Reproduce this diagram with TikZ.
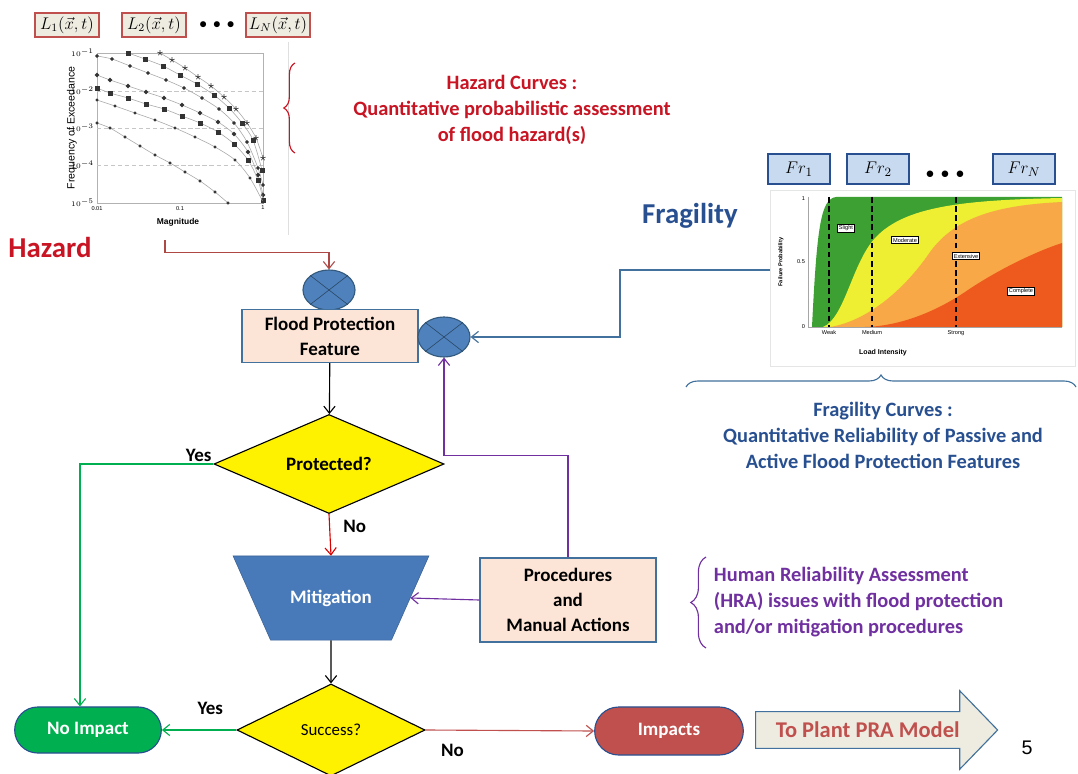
\documentclass[tikz,border=0pt]{standalone}
\usepackage{amsmath,amssymb}
\usepackage{fontspec}
\setmainfont{Carlito}
\newfontfamily\numfont{Liberation Sans}
\usetikzlibrary{shapes.geometric,shapes.misc,shapes.arrows,decorations.pathreplacing,positioning,arrows.meta,plotmarks}

\definecolor{hazred}{RGB}{200,20,35}
\definecolor{fragblue}{RGB}{40,80,145}
\definecolor{hrapurple}{RGB}{112,48,160}
\definecolor{peach}{RGB}{252,228,214}
\definecolor{edgeblue}{RGB}{65,113,156}
\definecolor{mixblue}{RGB}{79,129,189}
\definecolor{mitblue}{RGB}{72,122,186}
\definecolor{okgreen}{RGB}{0,176,80}
\definecolor{badred}{RGB}{192,80,77}
\definecolor{paper}{RGB}{238,236,225}
\definecolor{frfill}{RGB}{200,218,240}
\definecolor{fgreen}{RGB}{60,160,50}
\definecolor{fyellow}{RGB}{238,238,50}
\definecolor{forange}{RGB}{248,168,70}
\definecolor{fred}{RGB}{238,90,30}

\newcommand{\bigfont}{\fontsize{20.5}{24}\selectfont\bfseries}
\newcommand{\notefont}{\fontsize{14.5}{18.5}\selectfont\bfseries}
\newcommand{\flowfont}{\fontsize{13.5}{17.7}\selectfont\bfseries}
\newcommand{\axfont}{\numfont\fontsize{4}{5}\selectfont}

\begin{document}
\begin{tikzpicture}[x=0.025cm,y=-0.025cm,>={Straight Barb[length=5pt,width=8pt]},
    lbox/.style={draw=badred,thick,fill=paper,minimum width=1.6cm,minimum height=0.6cm,inner sep=1pt,font=\fontsize{12}{14}\selectfont},
    frbox/.style={draw=fragblue,thick,fill=frfill,minimum width=1.55cm,minimum height=0.75cm,font=\fontsize{13}{15}\selectfont},
    mixer/.style={ellipse,draw=edgeblue!80!black,thick,fill=mixblue,minimum width=1.3cm,minimum height=1cm},
    box/.style={draw=edgeblue,thick,fill=peach,align=center,font=\flowfont},
    decision/.style={diamond,draw,thick,fill=yellow,inner sep=0pt},
    terminal/.style={rounded rectangle,draw=fragblue,thick,text=white,font=\flowfont,minimum width=3.9cm,minimum height=1.15cm},
    label/.style={font=\flowfont,text=black},
    tag/.style={draw,fill=white,inner sep=1pt,font=\axfont},
    flow/.style={->,thick}]
    \fill[white] (0,0) rectangle (1078,774);
    \useasboundingbox (0,0) rectangle (1078,774);

    \node[lbox] (l1) at (67,25) {$L_1(\vec{x},t)$};
    \node[lbox] (l2) at (154,25) {$L_2(\vec{x},t)$};
    \node[font=\fontsize{11}{11}\selectfont] (ldots) at (217,25) {$\bullet\,\bullet\,\bullet$};
    \node[lbox] (ln) at (278,25) {$L_N(\vec{x},t)$};

    \draw[gray!25] (288,42) -- (288,235);
    \draw[gray!60,fill=white] (97,53) rectangle (263,203);
    \foreach \y in {91,128,165} \draw[gray!45,densely dashed] (97,\y) -- (263,\y);
    \draw[gray!70,mark=star,mark size=2pt,mark options={black!80}] plot[smooth] coordinates {(160,53) (172,60) (185,68) (198,77) (211,86) (224,97) (236,109) (247,123) (256,138) (263,158)};
    \draw[gray!70,mark=square*,mark size=1.3pt,mark options={black!80}] plot[smooth] coordinates {(128,53) (145,59) (163,66) (180,75) (197,84) (214,95) (229,108) (242,123) (253,140) (262,170)};
    \draw[gray!70,mark=*,mark size=1.1pt,mark options={black!80}] plot[smooth] coordinates {(97,56) (112,59) (130,66) (148,73) (166,80) (184,88) (202,98) (219,109) (234,123) (247,142) (258,168) (263,185)};
    \draw[gray!70,mark=*,mark size=1.4pt,mark options={black!80}] plot[smooth] coordinates {(97,75) (110,80) (128,86) (146,92) (164,98) (182,105) (200,113) (218,122) (234,134) (248,152) (258,175) (263,195)};
    \draw[gray!70,mark=square*,mark size=1.4pt,mark options={black!80}] plot[smooth] coordinates {(97,88) (110,93) (128,98) (146,104) (164,109) (182,116) (200,123) (218,132) (234,144) (248,160) (258,180) (263,200)};
    \draw[gray!70,mark=*,mark size=0.8pt,mark options={black!80}] plot[smooth] coordinates {(97,100) (115,106) (135,113) (155,120) (175,128) (195,137) (215,147) (235,160) (250,178) (263,202)};
    \draw[gray!70,mark=*,mark size=0.9pt,mark options={black!80}] plot[smooth] coordinates {(97,123) (110,128) (125,137) (140,146) (155,155) (170,163) (185,172) (200,181) (215,192) (228,203)};
    \foreach \y/\e in {53/-1,91/-2,128/-3,165/-4,203/-5} \node[left,inner sep=2pt,font=\axfont] at (97,\y) {$10^{\e}$};
    \foreach \x/\v in {97/0.01,180/0.1,263/1} \node[below,inner sep=2pt,font=\axfont] at (\x,203) {\v};
    \node[rotate=90,font=\numfont\fontsize{7.5}{8}\selectfont] (hazylab) at (72,128) {Frequency of Exceedance};
    \node[font=\numfont\fontsize{6}{7}\selectfont\bfseries] (hazxlab) at (178,222) {Magnitude};
    \coordinate (hazout) at (165,240);

    \draw[hazred,thick,decorate,decoration={brace,amplitude=0.28cm}] (295,153) -- (295,63);
    \node[text=hazred,font=\notefont,align=center] (haznote) at (512,110) {Hazard Curves :\\Quantitative probabilistic assessment\\of flood hazard(s)};
    \node[text=hazred,font=\bigfont] (hazard) at (50,247) {Hazard};

    \node[frbox] (fr1) at (799,169) {$Fr_1$};
    \node[frbox] (fr2) at (878,169) {$Fr_2$};
    \node[font=\fontsize{13}{13}\selectfont] (frdots) at (945,175) {$\bullet\,\bullet\,\bullet$};
    \node[frbox] (frn) at (1024,169) {$Fr_N$};
    \node[text=fragblue,font=\bigfont] (fragility) at (690,216) {Fragility};

    \draw[gray!20,fill=white] (770,190) rectangle (1075,366);
    \fill[fgreen] (812,327) .. controls (817,225) and (821,199) .. (836,197) -- (1062,197) -- (1062,327) -- cycle;
    \fill[fyellow] (823,327) .. controls (845,318) and (852,262) .. (876,237) .. controls (905,207) and (960,200) .. (1062,198) -- (1062,327) -- cycle;
    \fill[forange] (830,327) .. controls (862,322) and (900,296) .. (930,252) .. controls (956,216) and (1000,205) .. (1062,202) -- (1062,327) -- cycle;
    \fill[fred] (865,327) .. controls (900,326) and (935,312) .. (965,292) .. controls (1000,268) and (1040,250) .. (1062,243) -- (1062,327) -- cycle;
    \draw[gray!70] (808,197) -- (808,327) -- (1062,327);
    \foreach \x in {829,872,956} \draw[very thick,dash pattern=on 4pt off 2.5pt] (\x,197) -- (\x,327);
    \foreach \y/\v in {199/1,262/0.5,327/0} \node[left,inner sep=2pt,font=\axfont] at (808,\y) {\v};
    \foreach \x/\v in {829/Weak,872/Medium,956/Strong} \node[below,inner sep=2pt,font=\axfont] at (\x,327) {\v};
    \node[rotate=90,font=\numfont\fontsize{4}{5}\selectfont\bfseries] (fragylab) at (781,262) {Failure Probability};
    \node[font=\numfont\fontsize{5}{6}\selectfont\bfseries] (fragxlab) at (883,353) {Load Intensity};
    \node[tag] (slight) at (846,228) {Slight};
    \node[tag] (moderate) at (905,240) {Moderate};
    \node[tag] (extensive) at (966,256) {Extensive};
    \node[tag] (complete) at (1021,291) {Complete};
    \coordinate (fragin) at (770,270);

    \draw[edgeblue,thick,decorate,decoration={brace,amplitude=0.3cm}] (686,387) -- (1076,387);
    \node[text=fragblue,font=\notefont,align=center] (fragnote) at (883,435) {Fragility Curves :\\Quantitative Reliability of Passive and\\Active Flood Protection Features};

    \node[mixer] (mixa) at (329,290) {};
    \node[box,minimum width=4.4cm,minimum height=1.33cm] (fpf) at (330,336) {Flood Protection\\Feature};
    \node[mixer] (mixb) at (444,337) {};
    \foreach \m in {mixa,mixb} \draw[edgeblue!60!black] (\m.north west) -- (\m.south east) (\m.north east) -- (\m.south west);

    \node[decision,minimum width=5.75cm,minimum height=1.6cm,font=\flowfont] (prot) at (329,464) {Protected?};
    \node[trapezium,shape border rotate=180,trapezium angle=66,fill=mitblue,draw=mitblue!80!black,text width=62pt,align=center,inner xsep=12pt,inner ysep=24pt,text=white,font=\flowfont] (mitig) at (331,598) {Mitigation};
    \node[box,minimum width=4.4cm,minimum height=2.1cm] (proc) at (568,600) {Procedures\\and\\Manual Actions};
    \node[decision,minimum width=4.7cm,minimum height=2.3cm,font=\fontsize{12}{14}\selectfont] (succ) at (331,730) {Success?};
    \node[terminal,fill=okgreen] (noimp) at (88,730) {No Impact};
    \node[terminal,fill=badred,minimum width=3.95cm,minimum height=1.2cm] (imp) at (669,731) {Impacts};
    \node[single arrow,draw=edgeblue,thick,fill=paper,text=badred,font=\fontsize{16}{19}\selectfont\bfseries,minimum height=6.05cm,inner ysep=7pt,single arrow head extend=0.52cm,single arrow tip angle=92,anchor=tail] (topra) at (755,730) {To Plant PRA Model};

    \draw[hrapurple,thick,decorate,decoration={brace,amplitude=0.38cm}] (706,648) -- (706,557);
    \node[text=hrapurple,font=\notefont,align=left,anchor=west] (hranote) at (709,602) {Human Reliability Assessment\\(HRA) issues with flood protection\\and/or mitigation procedures};

    \draw[flow,badred!90!black] (hazout) |- ([yshift=0.43cm]mixa.north) -- (mixa.north);
    \draw[flow,edgeblue] (fragin) -- ++(-150,0) |- (mixb.east);
    \draw[flow] (fpf) -- (prot);
    \draw[flow,red!85!black] (prot.south) -- node[label,right,pos=0.3,xshift=6pt] {No} (mitig.north);
    \draw[flow,okgreen] (prot.west) -| node[label,above left,pos=0,inner sep=1pt] {Yes} ([xshift=-0.2cm]noimp.north);
    \draw[flow,hrapurple] (proc.west) -- (mitig.east);
    \draw[flow,hrapurple] (proc.north) -- ++(0,-102) -| (mixb.south);
    \draw[flow] (mitig.south) -- (succ.north);
    \draw[flow,okgreen] (succ.west) -- node[label,above=7pt,pos=0.35] {Yes} (noimp.east);
    \draw[flow,badred] (succ.east) -- node[label,below=6pt,pos=0.16] {No} (imp.west);

    \node[font=\numfont\fontsize{14}{16}\selectfont] (pagenum) at (1027,748) {5};
\end{tikzpicture}
\end{document}
